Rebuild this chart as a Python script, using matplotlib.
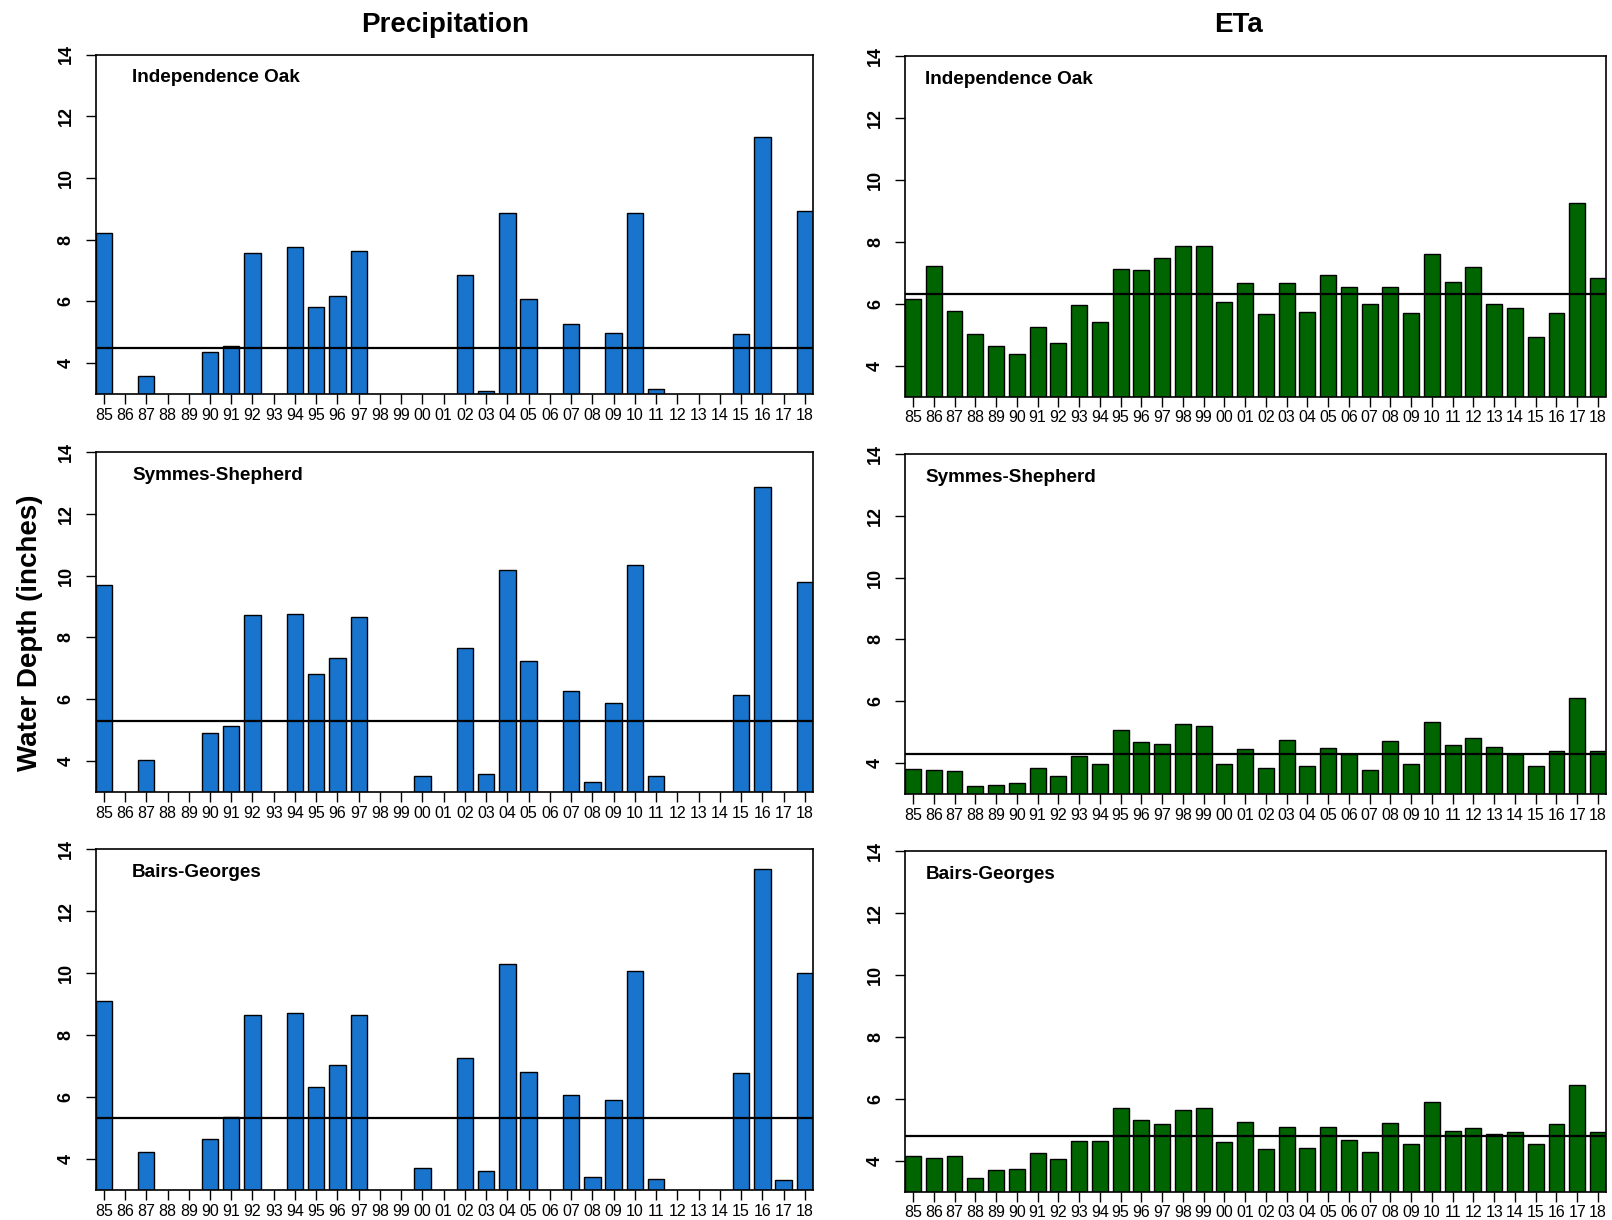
import numpy as np
import matplotlib
matplotlib.use("Agg")
import matplotlib.pyplot as plt

plt.rcParams['font.family'] = ['Liberation Sans', 'DejaVu Sans']

#%% data (inches), nan = below the 3 in. axis floor, not visible
years = ["85", "86", "87", "88", "89", "90", "91", "92", "93", "94", "95", "96",
         "97", "98", "99", "00", "01", "02", "03", "04", "05", "06", "07", "08",
         "09", "10", "11", "12", "13", "14", "15", "16", "17", "18"]
stations = ["Independence Oak", "Symmes-Shepherd", "Bairs-Georges"]
na = np.nan

precip_io = [8.23, na, 3.57, na, na, 4.36, 4.54, 7.57, na, 7.75, 5.82, 6.16,
             7.62, na, na, na, na, 6.86, 3.10, 8.87, 6.07, na, 5.28, na,
             4.97, 8.86, 3.15, na, na, na, 4.93, 11.34, na, 8.93]
precip_ss = [9.71, na, 4.05, na, na, 4.92, 5.13, 8.72, na, 8.77, 6.81, 7.32,
             8.67, na, na, 3.53, na, 7.66, 3.57, 10.17, 7.25, na, 6.27, 3.32,
             5.88, 10.36, 3.53, na, na, na, 6.13, 12.87, na, 9.81]
precip_bg = [9.09, na, 4.23, na, na, 4.64, 5.37, 8.64, na, 8.72, 6.33, 7.04,
             8.66, na, na, 3.72, na, 7.25, 3.61, 10.29, 6.82, na, 6.08, 3.42,
             5.90, 10.06, 3.34, na, na, na, 6.78, 13.34, 3.33, 9.99]

eta_io = [6.14, 7.21, 5.77, 5.01, 4.62, 4.37, 5.24, 4.72, 5.94, 5.41, 7.12, 7.09,
          7.46, 7.87, 7.85, 6.06, 6.68, 5.67, 6.68, 5.73, 6.91, 6.53, 6.00, 6.54,
          5.71, 7.59, 6.70, 7.17, 6.00, 5.85, 4.93, 5.70, 9.24, 6.84]
eta_ss = [3.80, 3.77, 3.74, 3.27, 3.29, 3.37, 3.83, 3.59, 4.23, 3.96, 5.07, 4.68,
          4.63, 5.28, 5.20, 3.98, 4.47, 3.84, 4.76, 3.92, 4.49, 4.28, 3.78, 4.72,
          3.98, 5.34, 4.58, 4.80, 4.52, 4.29, 3.91, 4.38, 6.10, 4.38]
eta_bg = [4.16, 4.08, 4.16, 3.44, 3.69, 3.72, 4.23, 4.04, 4.64, 4.64, 5.71, 5.31,
          5.19, 5.62, 5.69, 4.59, 5.26, 4.37, 5.08, 4.41, 5.09, 4.66, 4.27, 5.20,
          4.53, 5.89, 4.96, 5.05, 4.86, 4.93, 4.55, 5.19, 6.44, 4.93]

# long-term means (horizontal lines)
precip_mean = [4.49, 5.29, 5.31]
eta_mean = [6.31, 4.29, 4.80]

precip = [precip_io, precip_ss, precip_bg]
eta = [eta_io, eta_ss, eta_bg]

#%% layout
BLUE = "#1874CD"
GREEN = "#006400"
W = 0.77

fig = plt.figure(figsize=(16.12, 12.20), dpi=100)

# axes boxes in pixels (left, top, right, bottom)
left_boxes = [(95.6, 54.5, 813, 394), (95.6, 452, 813, 792), (95.6, 849, 813, 1190)]
right_boxes = [(905, 56, 1606, 396.5), (905, 454, 1606, 794), (905, 851, 1606, 1191.5)]


def make_ax(box):
    l, t, r, b = box
    return fig.add_axes([l / 1612, 1 - b / 1220, (r - l) / 1612, (b - t) / 1220])


def draw_panel(ax, vals, mean, color, name, label_x):
    x = np.arange(len(years))
    ax.bar(x, vals, width=W, color=color, edgecolor="black", linewidth=1.0)
    ax.axhline(mean, color="black", linewidth=1.6)
    ax.set_xlim(-W / 2, len(years) - 1 + W / 2)
    ax.set_ylim(3, 14)
    ax.set_yticks([4, 6, 8, 10, 12, 14])
    ax.set_yticklabels(["4", "6", "8", "10", "12", "14"], rotation=90,
                       va="center", fontsize=13, fontweight="bold")
    ax.set_xticks(x)
    ax.set_xticklabels(years, fontsize=11.5)
    ax.tick_params(axis="y", length=7, width=1.0, pad=8)
    ax.tick_params(axis="x", length=7, width=1.0, pad=3)
    for s in ax.spines.values():
        s.set_linewidth(1.2)
    ax.text(label_x, 0.932, name, transform=ax.transAxes, fontsize=13.6,
            fontweight="bold", va="center", ha="left")


for i in range(3):
    axl = make_ax(left_boxes[i])
    draw_panel(axl, precip[i], precip_mean[i], BLUE, stations[i], 0.051)
    axr = make_ax(right_boxes[i])
    draw_panel(axr, eta[i], eta_mean[i], GREEN, stations[i], 0.029)

fig.text(445 / 1612, 1 - 25 / 1220, "Precipitation", fontsize=20,
         fontweight="bold", ha="center", va="center")
fig.text(1239 / 1612, 1 - 25 / 1220, "ETa", fontsize=20,
         fontweight="bold", ha="center", va="center")
fig.text(30 / 1612, 1 - 633 / 1220, "Water Depth (inches)", fontsize=20,
         fontweight="bold", rotation=90, ha="center", va="center")

fig.savefig("out.png", dpi=100)
